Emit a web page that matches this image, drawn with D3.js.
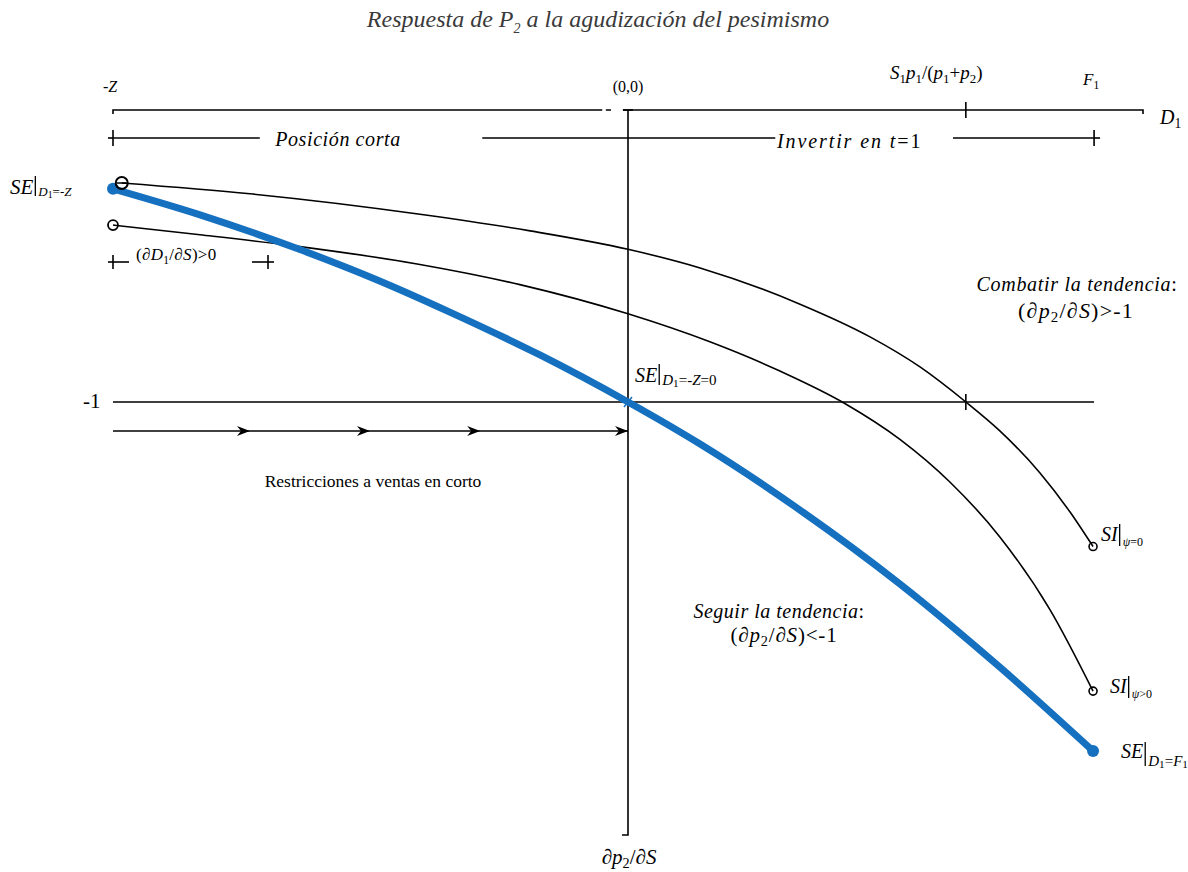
<!DOCTYPE html>
<html>
<head>
<meta charset="utf-8">
<script src="https://d3js.org/d3.v7.min.js"></script>
<style>
  body { margin: 0; background: #fff; }
  text { font-family: "Liberation Serif", "DejaVu Serif", serif; fill: #000; }
</style>
</head>
<body>
<svg width="1188" height="872"></svg>
<script>
    // curve data: x = D1 (−Z = −1 ... F1), y = dp2/dS
    var seX = [-1, -0.831, -0.637, -0.487, -0.346, -0.171, 0, 0.140, 0.334, 0.528, 0.722, 0.903],
        seY = [-0.270, -0.359, -0.478, -0.582, -0.692, -0.839, -1.000, -1.144, -1.370, -1.623, -1.908, -2.195];

    var si0X = [-0.983, -0.734, -0.404, -0.190, 0, 0.140, 0.334, 0.470, 0.567, 0.656, 0.722, 0.800, 0.858, 0.903],
        si0Y = [-0.250, -0.287, -0.357, -0.414, -0.477, -0.541, -0.665, -0.777, -0.880, -1.000, -1.099, -1.243, -1.376, -1.495];

    var siPX = [-1, -0.831, -0.637, -0.404, -0.210, 0, 0.159, 0.295, 0.421, 0.528, 0.625, 0.722, 0.819, 0.903],
        siPY = [-0.394, -0.427, -0.468, -0.529, -0.598, -0.698, -0.794, -0.894, -1.005, -1.128, -1.274, -1.462, -1.710, -1.990];

    // key positions on the D1 axis
    var negZ = -1, F1 = 0.905, sRatio = 0.656, xEnd = 1;
    var arrowHeads = [-0.734, -0.501, -0.287, 0];
    var shortSeg = [[-1, -0.715], [-0.283, 0.286], [0.631, 0.907]];
    var derivMarks = [-1, -0.699];

    var svg = d3.select("svg");
    var x = d3.scaleLinear().domain([-1, 1]).range([113, 1143]);
    var y = d3.scaleLinear().domain([0, -2.5]).range([110, 840]);

    var rowShort = 138, rowDeriv = 262, rowArrow = 431;

    function rich(g, px, py, parts, size, anchor, spacing) {
        var t = g.append("text").attr("x", px).attr("y", py)
            .style("font-size", size + "px")
            .attr("text-anchor", anchor || "start");
        if (spacing) t.style("letter-spacing", spacing + "px");
        var shift = 0;
        parts.forEach(function(p) {
            var s = t.append("tspan").text(p[0]);
            var st = p[1] || "";
            if (st.indexOf("i") >= 0) s.style("font-style", "italic");
            var want = st.indexOf("s") >= 0 ? 4 : 0;
            if (want !== shift) { s.attr("dy", want - shift); shift = want; }
            if (st.indexOf("s") >= 0) s.style("font-size", (size * 0.68) + "px");
        });
        return t;
    }

    // title
    svg.append("text").attr("x", 598).attr("y", 27).attr("text-anchor", "middle")
        .style("font-size", "24px").style("font-style", "italic").style("fill", "#3a3a3a")
        .call(function(t) {
            t.append("tspan").text("Respuesta de P");
            t.append("tspan").text("2").attr("dy", 6).style("font-size", "14px");
            t.append("tspan").text(" a la agudización del pesimismo").attr("dy", -6);
        });

    var g = svg.append("g").attr("fill", "none").attr("stroke", "#000").attr("stroke-width", 1.6);

    // top D1 axis
    g.append("path").attr("d", "M" + x(negZ) + "," + (y(0) + 4) + "V" + y(0) + "H" + x(xEnd) + "V" + (y(0) + 4));
    g.append("line").attr("x1", x(sRatio)).attr("x2", x(sRatio)).attr("y1", y(0) - 8).attr("y2", y(0) + 8);
    // small break in top axis
    svg.append("line").attr("x1", x(-0.05)).attr("x2", x(-0.043)).attr("y1", y(0)).attr("y2", y(0))
        .attr("stroke", "#fff").attr("stroke-width", 3);
    svg.append("line").attr("x1", x(-0.033)).attr("x2", x(-0.01)).attr("y1", y(0)).attr("y2", y(0))
        .attr("stroke", "#fff").attr("stroke-width", 3);

    // vertical dp2/dS axis
    g.append("path").attr("d", "M" + (x(0) - 6) + ",835H" + x(0) + "V" + y(0));
    g.append("line").attr("x1", x(0) - 5).attr("x2", x(0) + 5).attr("y1", y(0)).attr("y2", y(0));

    // short position / invest row
    shortSeg.forEach(function(s) {
        g.append("line").attr("x1", x(s[0])).attr("x2", x(s[1])).attr("y1", rowShort).attr("y2", rowShort);
    });
    g.append("line").attr("x1", x(negZ) - 5).attr("x2", x(negZ)).attr("y1", rowShort).attr("y2", rowShort);
    g.append("line").attr("x1", x(F1)).attr("x2", x(F1) + 6).attr("y1", rowShort).attr("y2", rowShort);
    [negZ, F1].forEach(function(v) {
        g.append("line").attr("x1", x(v)).attr("x2", x(v)).attr("y1", rowShort - 8).attr("y2", rowShort + 8);
    });

    // (dD1/dS)>0 marks
    g.append("line").attr("x1", x(derivMarks[0]) - 5).attr("x2", x(derivMarks[0]) + 16).attr("y1", rowDeriv).attr("y2", rowDeriv);
    g.append("line").attr("x1", x(derivMarks[1]) - 16).attr("x2", x(derivMarks[1]) + 6).attr("y1", rowDeriv).attr("y2", rowDeriv);
    derivMarks.forEach(function(v) {
        g.append("line").attr("x1", x(v)).attr("x2", x(v)).attr("y1", rowDeriv - 7).attr("y2", rowDeriv + 7);
    });

    // -1 line
    g.append("line").attr("x1", x(negZ)).attr("x2", x(F1)).attr("y1", y(-1)).attr("y2", y(-1));
    g.append("line").attr("x1", x(sRatio)).attr("x2", x(sRatio)).attr("y1", y(-1) - 8).attr("y2", y(-1) + 8);

    // arrow row
    g.append("line").attr("x1", x(negZ)).attr("x2", x(0)).attr("y1", rowArrow).attr("y2", rowArrow);
    svg.selectAll(".ah").data(arrowHeads).enter().append("path").attr("class", "ah")
        .attr("d", function(d) {
            var px = x(d);
            return "M" + px + "," + rowArrow + "L" + (px - 13) + "," + (rowArrow - 5) + "L" + (px - 9) + "," + rowArrow +
                "L" + (px - 13) + "," + (rowArrow + 5) + "Z";
        })
        .attr("fill", "#000");

    // curves
    var line = d3.line().x(function(d) { return x(d[0]); }).y(function(d) { return y(d[1]); }).curve(d3.curveMonotoneX);
    var si0 = d3.zip(si0X, si0Y), siP = d3.zip(siPX, siPY), se = d3.zip(seX, seY);

    g.append("path").attr("d", line(si0)).attr("stroke-width", 1.6);
    g.append("path").attr("d", line(siP)).attr("stroke-width", 1.6);

    var blue = "#1570bf";
    svg.append("path").attr("d", line(se)).attr("fill", "none").attr("stroke", blue).attr("stroke-width", 7);
    svg.selectAll(".sedot").data([se[0], se[se.length - 1]]).enter().append("circle")
        .attr("cx", function(d) { return x(d[0]); }).attr("cy", function(d) { return y(d[1]); })
        .attr("r", 6).attr("fill", blue);
    // blue cross at (0,-1)
    svg.append("path").attr("d", "M" + (x(0) - 4) + "," + (y(-1) - 5) + "L" + (x(0) + 4) + "," + (y(-1) + 5) +
        "M" + (x(0) + 4) + "," + (y(-1) - 5) + "L" + (x(0) - 4) + "," + (y(-1) + 5))
        .attr("stroke", blue).attr("stroke-width", 1.5);

    // open circles at curve ends
    var ends = [[si0[0], 6, 2], [siP[0], 5, 1.8], [si0[si0.length - 1], 4, 1.6], [siP[siP.length - 1], 4, 1.6]];
    svg.selectAll(".oc").data(ends).enter().append("circle")
        .attr("cx", function(d) { return x(d[0][0]); }).attr("cy", function(d) { return y(d[0][1]); })
        .attr("r", function(d) { return d[1]; }).attr("fill", "none").attr("stroke", "#000")
        .attr("stroke-width", function(d) { return d[2]; });
    svg.append("line").attr("x1", x(si0[0][0]) - 5).attr("x2", x(si0[0][0]) + 5)
        .attr("y1", y(si0[0][1])).attr("y2", y(si0[0][1])).attr("stroke", "#000").attr("stroke-width", 1.5);

    // labels
    var L = svg.append("g");
    rich(L, 103, 92, [["-Z", "i"]], 16);
    rich(L, 628, 92, [["(0,0)"]], 16, "middle");
    rich(L, 890, 79, [["S", "i"], ["1", "s"], ["p", "i"], ["1", "s"], ["/("], ["p", "i"], ["1", "s"], ["+"], ["p", "i"], ["2", "s"], [")"]], 19);
    rich(L, 1083, 85, [["F", "i"], ["1", "s"]], 17);
    rich(L, 1160, 124, [["D", "i"], ["1", "s"]], 20);

    rich(L, 338, 146, [["Posición corta", "i"]], 20, "middle", 0.6);
    rich(L, 777, 148, [["Invertir en ", "i"], ["t", "i"], ["=1"]], 20, "start", 1.9);

    rich(L, 136, 260, [["(∂"], ["D", "i"], ["1", "s"], ["/∂"], ["S", "i"], [")>0"]], 17, "start", 0.3);
    rich(L, 83, 408, [["-1"]], 21);
    rich(L, 373, 487, [["Restricciones a ventas en corto"]], 17.5, "middle");

    rich(L, 1077, 291, [["Combatir la tendencia", "i"], [":"]], 20, "middle", 0.7);
    rich(L, 1076, 318, [["(∂"], ["p", "i"], ["2", "s"], ["/∂"], ["S", "i"], [")>-1"]], 22, "middle", 1.2);
    rich(L, 779, 618, [["Seguir la tendencia", "i"], [":"]], 20, "middle", 0.5);
    rich(L, 784, 642, [["(∂"], ["p", "i"], ["2", "s"], ["/∂"], ["S", "i"], [")<-1"]], 21, "middle", 0.8);
    rich(L, 629, 864, [["∂"], ["p", "i"], ["2", "s"], ["/∂"], ["S", "i"]], 21, "middle");

    // evaluated-at labels
    function evalLabel(px, py, main, sub, size, subSize, barTop, barBot) {
        var t = rich(L, px, py, [[main, "i"]], size);
        var w = t.node().getComputedTextLength();
        L.append("line").attr("x1", px + w + 2).attr("x2", px + w + 2).attr("y1", barTop).attr("y2", barBot)
            .attr("stroke", "#000").attr("stroke-width", 1.3);
        var s = L.append("text").attr("x", px + w + 5).attr("y", barBot).style("font-size", subSize + "px");
        sub.forEach(function(p) {
            var sp = s.append("tspan").text(p[0]);
            if (p[1] === "i") sp.style("font-style", "italic");
            if (p[1] === "s") sp.style("font-size", (subSize * 0.75) + "px").attr("dy", 2);
            if (p[1] === "u") sp.attr("dy", -2);
        });
    }
    evalLabel(10, 194, "SE", [["D", "i"], ["1", "s"], ["=-", "u"], ["Z", "i"]], 21, 13, 176, 196);
    evalLabel(635, 382, "SE", [["D", "i"], ["1", "s"], ["=-", "u"], ["Z", "i"], ["=0"]], 20, 15, 364, 385);
    evalLabel(1101, 541, "SI", [["ψ", "i"], ["=0"]], 20, 12, 524, 546);
    evalLabel(1110, 693, "SI", [["ψ", "i"], [">0"]], 20, 12, 676, 698);
    evalLabel(1121, 758, "SE", [["D", "i"], ["1", "s"], ["=", "u"], ["F", "i"], ["1", "s"]], 20, 15, 742, 766);
</script>
</body>
</html>
